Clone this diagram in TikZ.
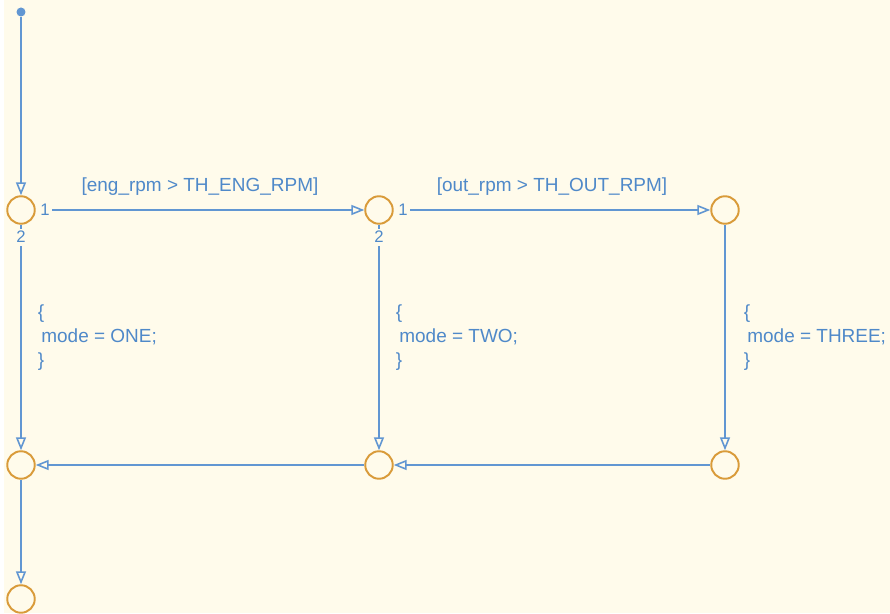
\documentclass[tikz,border=0pt]{standalone}
\usepackage{fontspec}
\setmainfont{Liberation Sans}
\usetikzlibrary{arrows.meta, positioning}
\definecolor{chartbg}{HTML}{FFFBEB}
\definecolor{wireblue}{HTML}{6196D2}
\definecolor{textblue}{HTML}{4F89C9}
\definecolor{juncorange}{HTML}{D99B3A}

\begin{document}
\begin{tikzpicture}[node distance=2cm,
  junc/.style={circle, draw=juncorange, line width=1.1pt, minimum size=0.55cm, inner sep=0pt},
  flow/.style={draw=wireblue, line width=1.1pt, -{Triangle[open, length=0.26cm, width=0.2cm, line width=0.9pt]}},
  guard/.style={text=textblue, font=\fontsize{10.8}{13}\selectfont},
  action/.style={text=textblue, font=\fontsize{10.8}{13.6}\selectfont, align=left},
  pnum/.style={text=textblue, fill=chartbg, inner sep=1.5pt, font=\fontsize{9.5}{9.5}\selectfont}]
  \fill[chartbg] (0,0) rectangle (17.8,12.26);
  \fill[white] (0,0) rectangle (0.08,12.26);
  \useasboundingbox (0,0) rectangle (17.8,12.26);

  \node[junc] (J1) at (0.42,8.06) {};
  \node[circle, fill=wireblue, inner sep=0pt, minimum size=0.18cm, above of=J1, node distance=3.96cm] (start) {};
  \node[junc, right of=J1, node distance=7.16cm] (J2) {};
  \node[junc, right of=J2, node distance=6.92cm] (J3) {};
  \node[junc, below of=J1, node distance=5.1cm] (J4) {};
  \node[junc, below of=J2, node distance=5.1cm] (J5) {};
  \node[junc, below of=J3, node distance=5.1cm] (J6) {};
  \node[junc, below of=J4, node distance=2.68cm] (J7) {};

  \draw[flow] (start) -- (J1);
  \draw[flow, shorten <=0.3cm] (J1) -- node[pnum, pos=0, anchor=west, xshift=0.02cm] (p11) {1} node[guard, above=0.16cm, midway] (g1) {[eng\_rpm > TH\_ENG\_RPM]} (J2);
  \draw[flow, shorten <=0.3cm] (J2) -- node[pnum, pos=0, anchor=west, xshift=0.02cm] (p21) {1} node[guard, above=0.16cm, midway] (g2) {[out\_rpm > TH\_OUT\_RPM]} (J3);
  \draw[flow] (J1) -- node[pnum, pos=0.055] (p12) {2} node[action, right=0.2cm, midway] (a1) {\{\\\hspace{2pt}mode = ONE;\\\}} (J4);
  \draw[flow] (J2) -- node[pnum, pos=0.055] (p22) {2} node[action, right=0.2cm, midway] (a2) {\{\\\hspace{2pt}mode = TWO;\\\}} (J5);
  \draw[flow] (J3) -- node[action, right=0.24cm, midway] (a3) {\{\\\hspace{2pt}mode = THREE;\\\}} (J6);
  \draw[flow] (J6) -- (J5);
  \draw[flow] (J5) -- (J4);
  \draw[flow] (J4) -- (J7);
\end{tikzpicture}
\end{document}
